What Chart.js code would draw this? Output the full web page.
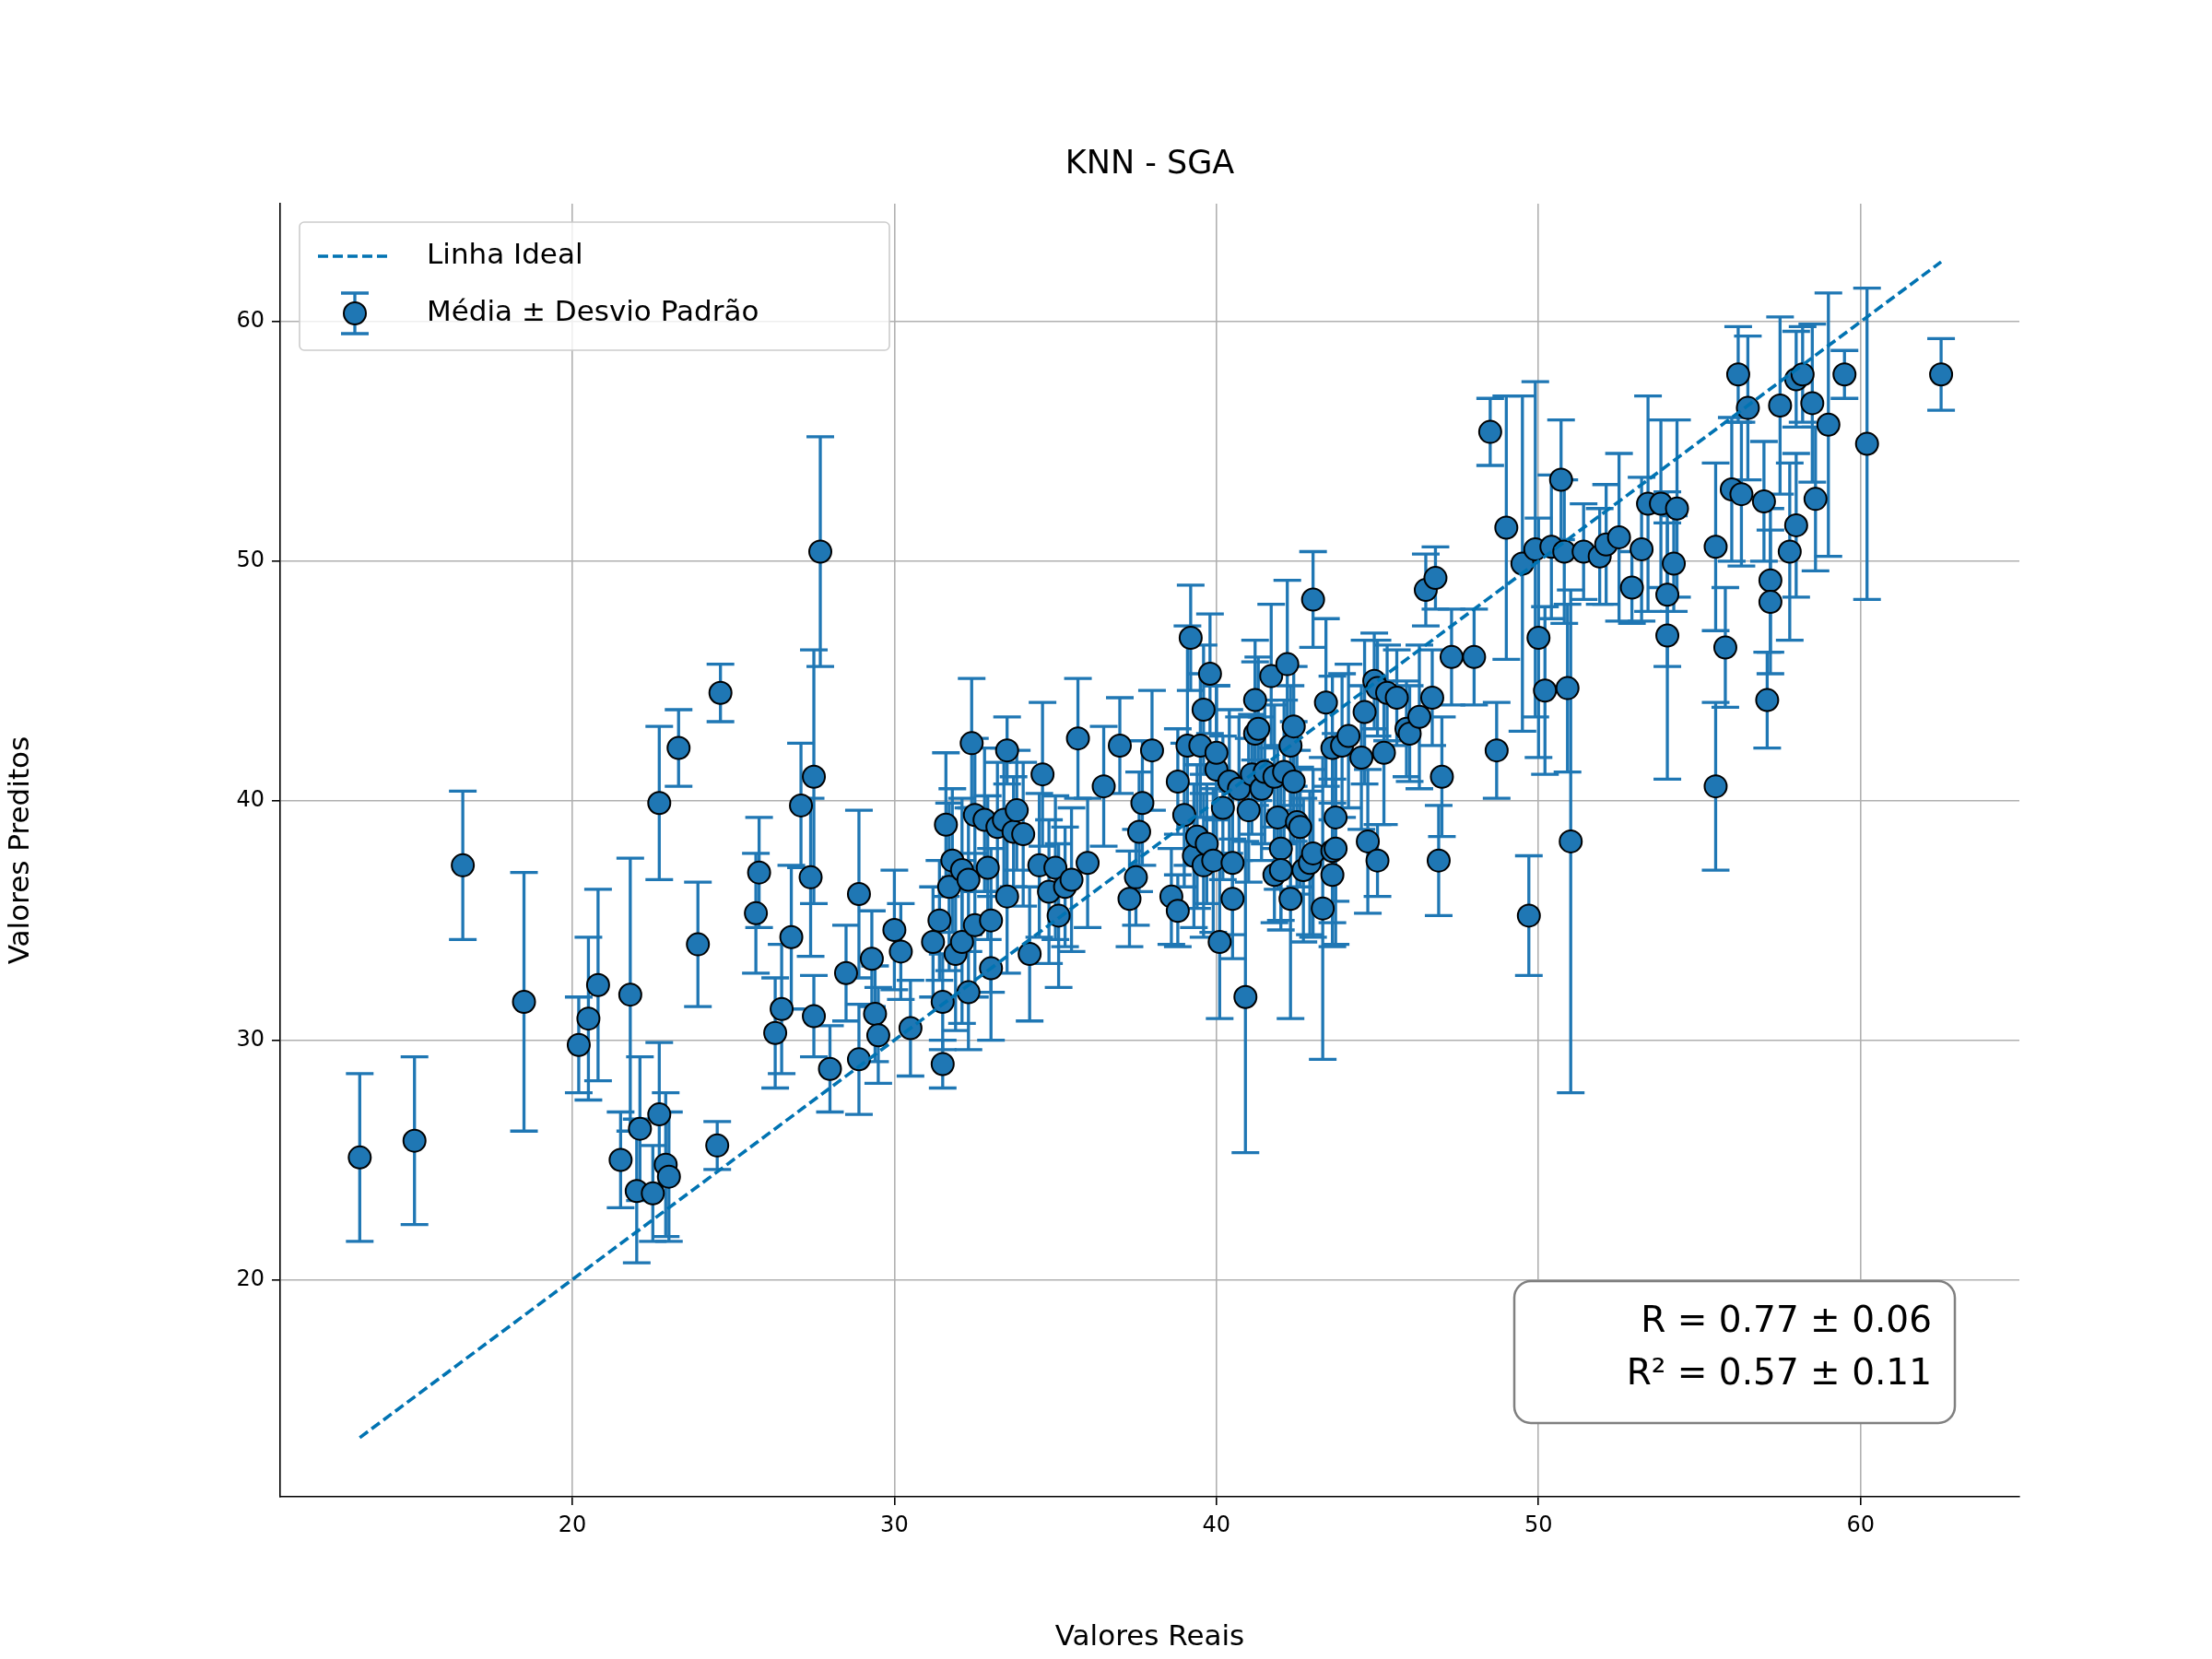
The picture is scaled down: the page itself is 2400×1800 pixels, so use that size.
<!DOCTYPE html>
<html>
<head>
<meta charset="utf-8">
<script src="https://cdn.jsdelivr.net/npm/chart.js@4/dist/chart.umd.min.js"></script>
<style>
  html, body { margin: 0; padding: 0; background: #fff; }
</style>
</head>
<body>
<canvas id="knn" width="2400" height="1800"></canvas>
<script>
// valores reais, preditos (média) e desvio padrão
const real_vals = [13.4,15.1,16.6,18.5,20.2,20.5,20.8,21.5,21.8,22.0,22.1,22.5,22.7,22.7,22.9,23.0,23.3,23.9,24.5,24.6,25.7,25.8,26.3,26.5,26.8,27.1,27.4,27.5,27.5,27.7,28.0,28.5,28.9,28.9,29.3,29.4,29.5,30.0,30.2,30.5,31.2,31.4,31.5,31.5,31.6,31.7,31.8,31.9,32.1,32.1,32.3,32.3,32.4,32.5,32.5,32.8,32.9,33.0,33.0,33.2,33.4,33.5,33.5,33.7,33.8,34.0,34.2,34.5,34.6,34.8,35.0,35.1,35.3,35.5,35.7,36.0,36.5,37.0,37.3,37.5,37.6,37.7,38.0,38.6,38.8,38.8,39.0,39.1,39.2,39.3,39.4,39.5,39.6,39.6,39.7,39.8,39.9,40.0,40.0,40.1,40.2,40.4,40.5,40.5,40.7,40.9,41.0,41.1,41.2,41.2,41.3,41.4,41.5,41.7,41.8,41.8,41.9,42.0,42.0,42.1,42.2,42.3,42.3,42.4,42.4,42.5,42.6,42.7,42.9,43.0,43.0,43.3,43.4,43.6,43.6,43.6,43.7,43.7,43.9,44.1,44.5,44.6,44.7,44.9,45.0,45.0,45.2,45.3,45.6,45.9,46.0,46.3,46.5,46.7,46.8,46.9,47.0,47.3,48.0,48.5,48.7,49.0,49.5,49.7,49.9,50.0,50.2,50.4,50.7,50.8,50.9,51.0,51.4,51.9,52.1,52.5,52.9,53.2,53.4,53.8,54.0,54.0,54.2,54.3,55.5,55.5,55.8,56.0,56.2,56.3,56.5,57.0,57.1,57.2,57.2,57.5,57.8,58.0,58.0,58.2,58.5,58.6,59.0,59.5,60.2,62.5];
const pred_vals = [25.1,25.8,37.3,31.6,29.8,30.9,32.3,25.0,31.9,23.7,26.3,23.6,26.9,39.9,24.8,24.3,42.2,34.0,25.6,44.5,35.3,37.0,30.3,31.3,34.3,39.8,36.8,41.0,31.0,50.4,28.8,32.8,36.1,29.2,33.4,31.1,30.2,34.6,33.7,30.5,34.1,35.0,31.6,29.0,39.0,36.4,37.5,33.6,34.1,37.1,36.7,32.0,42.4,39.4,34.8,39.2,37.2,35.0,33.0,38.9,39.2,36.0,42.1,38.7,39.6,38.6,33.6,37.3,41.1,36.2,37.2,35.2,36.4,36.7,42.6,37.4,40.6,42.3,35.9,36.8,38.7,39.9,42.1,36.0,35.4,40.8,39.4,42.3,46.8,37.7,38.5,42.3,43.8,37.3,38.2,45.3,37.5,41.3,42.0,34.1,39.7,40.8,37.4,35.9,40.5,31.8,39.6,41.1,44.2,42.8,43.0,40.5,41.2,45.2,36.9,41.0,39.3,38.0,37.1,41.2,45.7,35.9,42.3,43.1,40.8,39.1,38.9,37.1,37.4,48.4,37.8,35.5,44.1,42.2,36.9,37.9,39.3,38.0,42.3,42.7,41.8,43.7,38.3,45.0,44.7,37.5,42.0,44.5,44.3,43.0,42.8,43.5,48.8,44.3,49.3,37.5,41.0,46.0,46.0,55.4,42.1,51.4,49.9,35.2,50.5,46.8,44.6,50.6,53.4,50.4,44.7,38.3,50.4,50.2,50.7,51.0,48.9,50.5,52.4,52.4,48.6,46.9,49.9,52.2,50.6,40.6,46.4,53.0,57.8,52.8,56.4,52.5,44.2,49.2,48.3,56.5,50.4,51.5,57.6,57.8,56.6,52.6,55.7,57.8,54.9,57.8];
const desvio_vals = [3.5,3.5,3.1,5.4,2.0,3.4,4.0,2.0,5.7,3.0,3.0,2.0,3.0,3.2,3.0,2.7,1.6,2.6,1.0,1.2,2.5,2.3,2.3,2.7,3.0,2.6,3.3,5.3,1.7,4.8,1.8,2.0,3.5,2.3,2.0,2.0,2.0,2.5,2.0,2.0,2.3,2.5,2.0,1.0,3.0,3.5,3.0,3.2,3.4,3.0,3.0,2.4,2.7,3.2,3.0,3.0,3.0,3.0,3.0,2.7,3.0,3.2,1.4,2.3,2.5,3.0,2.8,3.0,3.0,3.0,3.0,3.0,2.5,3.0,2.5,2.7,2.5,2.0,2.0,2.0,2.5,2.6,2.5,2.0,1.5,2.2,3.0,5.0,2.2,3.0,3.0,3.0,2.7,3.0,2.5,2.5,3.0,3.5,2.8,3.2,3.0,3.0,3.0,2.5,3.0,6.5,3.0,2.5,2.5,3.0,3.0,3.0,3.0,3.0,2.0,3.0,3.0,3.0,2.5,3.0,3.5,5.0,2.5,2.5,2.5,3.0,2.5,3.0,3.0,2.0,3.5,6.3,3.5,3.0,3.0,3.0,3.5,4.0,3.0,3.0,3.0,3.0,3.0,2.0,2.0,1.5,3.0,2.0,2.0,2.0,2.0,3.0,1.5,2.0,1.3,2.3,2.5,2.0,2.0,1.4,2.0,5.5,7.0,2.5,7.0,5.0,3.5,3.0,2.5,3.0,3.5,10.5,2.0,2.0,2.5,3.5,1.5,3.0,4.5,3.5,3.0,6.0,2.0,3.7,3.5,3.5,2.5,3.0,2.0,3.0,3.0,2.5,2.0,3.0,3.0,3.7,3.7,3.0,2.0,2.0,3.3,3.0,5.5,1.0,6.5,1.5];
const linha_ideal = [13.4, 62.5];
const x_ticks = [20, 30, 40, 50, 60];
const y_ticks = [20, 30, 40, 50, 60];
const texto_r = ['R = 0.77 ± 0.06', 'R² = 0.57 ± 0.11'];

const cor = '#1f77b4';
const cor_linha = '#0173b2';
const fonte = 'DejaVu Sans';

const pontos = real_vals.map((x, i) => ({x: x, y: pred_vals[i], e: desvio_vals[i]}));

// barras de erro + título + legenda + caixa de texto
const extras = {
  id: 'extras',
  beforeDatasetsDraw(chart) {
    const ctx = chart.ctx, xs = chart.scales.x, ys = chart.scales.y;
    ctx.save();
    ctx.strokeStyle = cor; ctx.lineWidth = 3.3;
    pontos.forEach(p => {
      const px = xs.getPixelForValue(p.x);
      const y1 = ys.getPixelForValue(p.y - p.e), y2 = ys.getPixelForValue(p.y + p.e);
      ctx.beginPath();
      ctx.moveTo(px, y1); ctx.lineTo(px, y2);
      ctx.moveTo(px - 15, y1); ctx.lineTo(px + 15, y1);
      ctx.moveTo(px - 15, y2); ctx.lineTo(px + 15, y2);
      ctx.stroke();
    });
    ctx.restore();
  },
  afterDraw(chart) {
    const ctx = chart.ctx, a = chart.chartArea;
    ctx.save();
    ctx.fillStyle = '#000';
    ctx.font = '35px "' + fonte + '"';
    ctx.textAlign = 'center'; ctx.textBaseline = 'alphabetic';
    ctx.fillText('KNN - SGA', (a.left + a.right) / 2, 188);

    // legenda
    const lx = a.left + 21, ly = a.top + 20, lw = 640, lh = 139;
    ctx.fillStyle = 'rgba(255,255,255,0.8)';
    ctx.strokeStyle = '#cccccc'; ctx.lineWidth = 1.6;
    ctx.beginPath(); ctx.roundRect(lx, ly, lw, lh, 5); ctx.fill(); ctx.stroke();
    ctx.strokeStyle = cor_linha; ctx.lineWidth = 3.6; ctx.setLineDash([11, 5]);
    ctx.beginPath(); ctx.moveTo(lx + 20, ly + 37); ctx.lineTo(lx + 100, ly + 37); ctx.stroke();
    ctx.setLineDash([]);
    const mx = lx + 60, my = ly + 99;
    ctx.strokeStyle = cor; ctx.lineWidth = 3.3;
    ctx.beginPath();
    ctx.moveTo(mx, my - 22); ctx.lineTo(mx, my + 22);
    ctx.moveTo(mx - 15, my - 22); ctx.lineTo(mx + 15, my - 22);
    ctx.moveTo(mx - 15, my + 22); ctx.lineTo(mx + 15, my + 22);
    ctx.stroke();
    ctx.fillStyle = cor; ctx.strokeStyle = '#000'; ctx.lineWidth = 2;
    ctx.beginPath(); ctx.arc(mx, my, 12, 0, Math.PI * 2); ctx.fill(); ctx.stroke();
    ctx.fillStyle = '#000'; ctx.font = '31px "' + fonte + '"';
    ctx.textAlign = 'left'; ctx.textBaseline = 'middle';
    ctx.fillText('Linha Ideal', lx + 138, ly + 37);
    ctx.fillText('Média ± Desvio Padrão', lx + 138, ly + 99);

    // caixa R
    const bx = 1643, by = 1390, bw = 478, bh = 154;
    ctx.fillStyle = '#fff'; ctx.strokeStyle = '#808080'; ctx.lineWidth = 2.5;
    ctx.beginPath(); ctx.roundRect(bx, by, bw, bh, 18); ctx.fill(); ctx.stroke();
    ctx.fillStyle = '#000'; ctx.font = '39px "' + fonte + '"'; ctx.textAlign = 'right';
    ctx.fillText(texto_r[0], bx + bw - 25, by + 45);
    ctx.fillText(texto_r[1], bx + bw - 25, by + 102);
    ctx.restore();
  }
};

new Chart(document.getElementById('knn'), {
  type: 'scatter',
  data: {
    datasets: [
      {
        type: 'line',
        label: 'Linha Ideal',
        data: linha_ideal.map(v => ({x: v, y: v})),
        borderColor: cor_linha, borderWidth: 3.6, borderDash: [11, 5],
        pointRadius: 0, fill: false
      },
      {
        label: 'Média ± Desvio Padrão',
        data: pontos,
        backgroundColor: cor, borderColor: '#000', borderWidth: 2,
        pointRadius: 12, pointHoverRadius: 12
      }
    ]
  },
  options: {
    responsive: false, animation: false, devicePixelRatio: 1,
    layout: {padding: {top: 221, right: 209, left: 0, bottom: 0}},
    plugins: {legend: {display: false}, tooltip: {enabled: false}},
    scales: {
      x: {
        type: 'linear', min: 10.93, max: 64.93,
        afterBuildTicks: s => { s.ticks = x_ticks.map(v => ({value: v})); },
        afterFit: s => { s.height = 176; },
        grid: {color: '#b0b0b0', lineWidth: 1.6, tickLength: 9, tickColor: '#000'},
        border: {color: '#000', width: 1.6},
        ticks: {color: '#000', font: {family: fonte, size: 24}, padding: 8},
        title: {display: true, text: 'Valores Reais', color: '#000', font: {family: fonte, size: 31}, padding: {top: 8}}
      },
      y: {
        type: 'linear', min: 10.93, max: 64.93,
        afterBuildTicks: s => { s.ticks = y_ticks.map(v => ({value: v})); },
        afterFit: s => { s.width = 304; },
        grid: {color: '#b0b0b0', lineWidth: 1.6, tickLength: 9, tickColor: '#000'},
        border: {color: '#000', width: 1.6},
        ticks: {color: '#000', font: {family: fonte, size: 24}, padding: 8},
        title: {display: true, text: 'Valores Preditos', color: '#000', font: {family: fonte, size: 31}, padding: {bottom: 40}}
      }
    }
  },
  plugins: [extras]
});
</script>
</body>
</html>
